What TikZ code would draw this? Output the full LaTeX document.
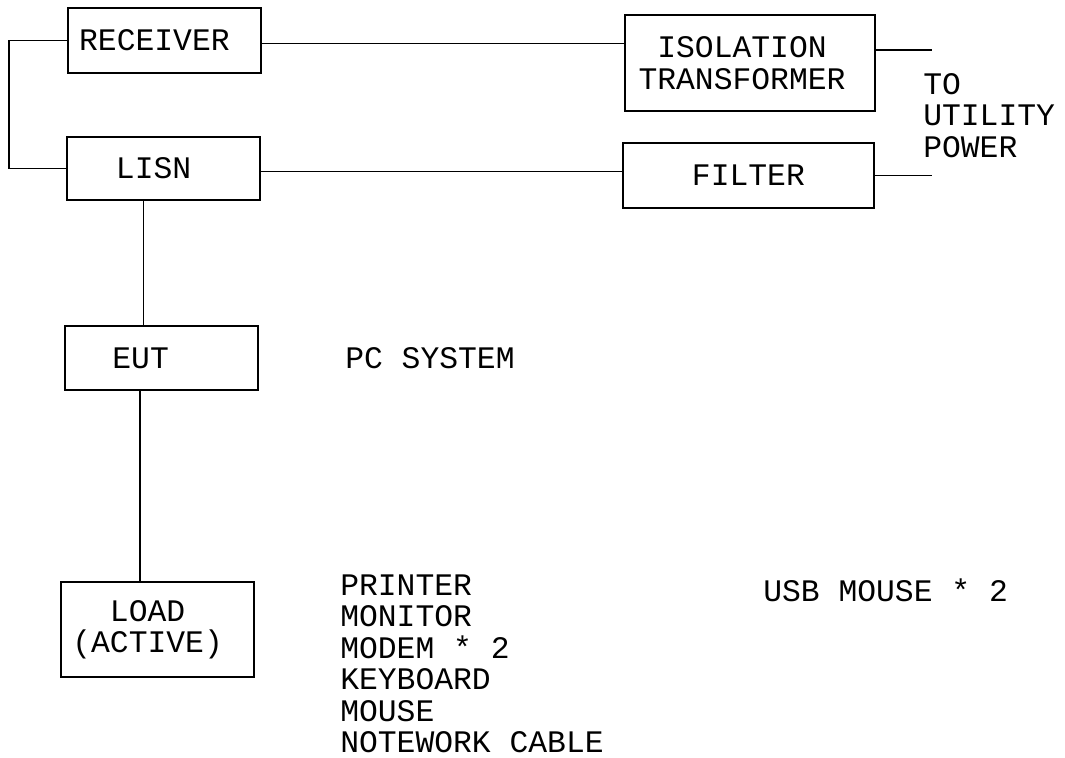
\documentclass[tikz,border=0pt]{standalone}
\usepackage{fontspec}
\setmainfont{Liberation Mono}
\usetikzlibrary{positioning, calc}
\tikzset{
  blockbox/.style={draw, line width=1.2pt, minimum width=4.83cm, minimum height=1.62cm, align=center, inner sep=2pt},
  wire/.style={line width=1.2pt},
  plaintext/.style={anchor=west, align=left, inner sep=0pt}
}

\begin{document}
\begin{tikzpicture}[font=\fontsize{22.3}{22.4}\selectfont]
\useasboundingbox (0,0) rectangle (26.625,-18.925);
% Draw the test setup blocks
\node[blockbox] (rec) at (4.11,-1.01) {\hspace*{-0.5cm}RECEIVER};
\node[blockbox, minimum height=1.58cm] (lisn) at (4.09,-4.21) {\hspace*{-0.5cm}LISN};
\node[blockbox, minimum width=6.25cm, minimum height=2.4cm] (iso) at (18.75,-1.575) {\hspace*{-0.4cm}ISOLATION\\\hspace*{-0.4cm}TRANSFORMER};
\node[blockbox, minimum width=6.28cm] (filt) at (18.71,-4.39) {FILTER};
\node[blockbox, minimum height=1.6cm] (eut) at (4.04,-8.95) {\hspace*{-1.05cm}EUT};
\node[blockbox, minimum height=2.38cm] (load) at (3.94,-15.74) {\hspace*{-0.5cm}LOAD\\\hspace*{-0.5cm}(ACTIVE)};

% Texts beside the blocks
\node[plaintext] (util) at (23.075,-2.89) {TO\\UTILITY\\POWER};
\node[plaintext] (pc) at (8.625,-8.95) {PC SYSTEM};
\node[plaintext] (devs) at (8.5,-16.59) {PRINTER\\MONITOR\\MODEM * 2\\KEYBOARD\\MOUSE\\NOTEWORK CABLE};
\node[plaintext] (usb) at (19.075,-14.75) {USB MOUSE * 2};

% Connections
\coordinate (bend) at (0.225,0);
\coordinate (pwr) at (23.3,0);
\draw[wire] (rec.west) -- (rec.west -| bend) |- (lisn.west);
\draw[wire] ([yshift=-0.08cm]rec.east) -- ([yshift=-0.08cm]rec.east -| iso.west);
\draw[wire] ([yshift=-0.08cm]lisn.east) -- ([yshift=-0.08cm]lisn.east -| filt.west);
\draw[wire] ([yshift=0.33cm]iso.east) -- ([yshift=0.33cm]iso.east -| pwr);
\draw[wire] (filt.east) -- (filt.east -| pwr);
\draw[wire] ([xshift=-0.5cm]lisn.south) -- ([xshift=-0.5cm]lisn.south |- eut.north);
\draw[wire] ([xshift=-0.54cm]eut.south) -- ([xshift=-0.54cm]eut.south |- load.north);
\end{tikzpicture}
\end{document}
